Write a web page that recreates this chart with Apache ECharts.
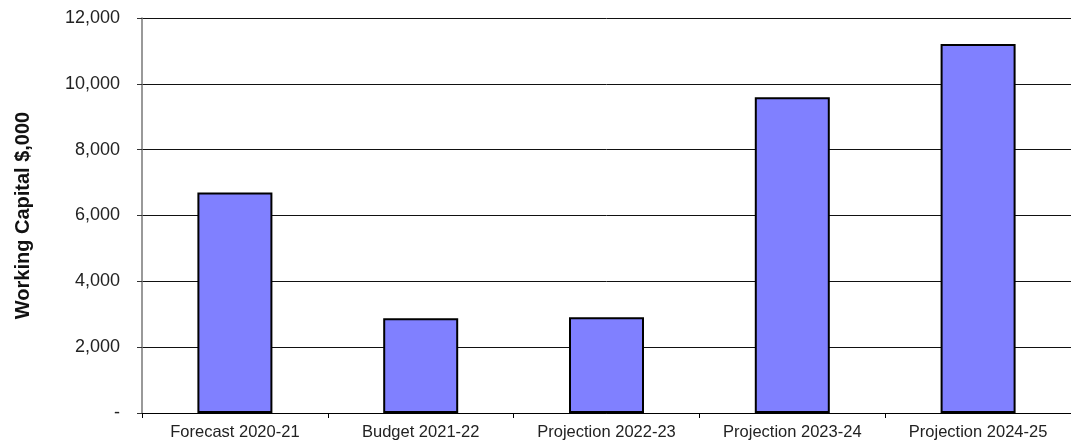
<!DOCTYPE html>
<html>
<head>
<meta charset="utf-8">
<script src="https://cdn.jsdelivr.net/npm/echarts@6/dist/echarts.min.js"></script>
<style>
  html, body { margin: 0; padding: 0; background: #fff; }
  #chart { width: 1071px; height: 441px; }
</style>
</head>
<body>
<div id="chart"></div>
<script>
// categories and values ($,000)
var categories = ['Forecast 2020-21', 'Budget 2021-22', 'Projection 2022-23', 'Projection 2023-24', 'Projection 2024-25'];
var workingCapital = [6700, 2880, 2910, 9590, 11210];
var axisTitle = 'Working Capital $,000';

var myChart = echarts.init(document.getElementById('chart'));

myChart.setOption({
    animation: false,
    textStyle: { fontFamily: 'Liberation Sans, Arial, sans-serif' },
    grid: { left: 142, right: 0, top: 18, bottom: 27, containLabel: false },
    xAxis: {
        type: 'category',
        data: categories,
        axisLine: { lineStyle: { color: '#000', width: 1 } },
        axisTick: { show: true, length: 5, alignWithLabel: false, lineStyle: { color: '#000' } },
        axisLabel: { color: '#222', fontSize: 16.5, margin: 11 }
    },
    yAxis: {
        type: 'value',
        min: 0,
        max: 12000,
        interval: 2000,
        name: axisTitle,
        nameLocation: 'middle',
        nameGap: 109,
        nameTextStyle: { fontSize: 20, fontWeight: 'bold', color: '#111' },
        axisLine: { show: true, lineStyle: { color: '#777', width: 1.5 } },
        axisTick: { show: true, length: 5, lineStyle: { color: '#333' } },
        axisLabel: {
            color: '#222',
            fontSize: 18,
            margin: 22,
            formatter: function (v) {
                return v === 0 ? '-' : v.toLocaleString('en-US');
            }
        },
        splitLine: { show: true, lineStyle: { color: '#111', width: 1 } }
    },
    series: [{
        type: 'bar',
        data: workingCapital,
        barWidth: 75,
        itemStyle: { color: '#8080ff', borderColor: '#000', borderWidth: 2 }
    }]
});
</script>
</body>
</html>
